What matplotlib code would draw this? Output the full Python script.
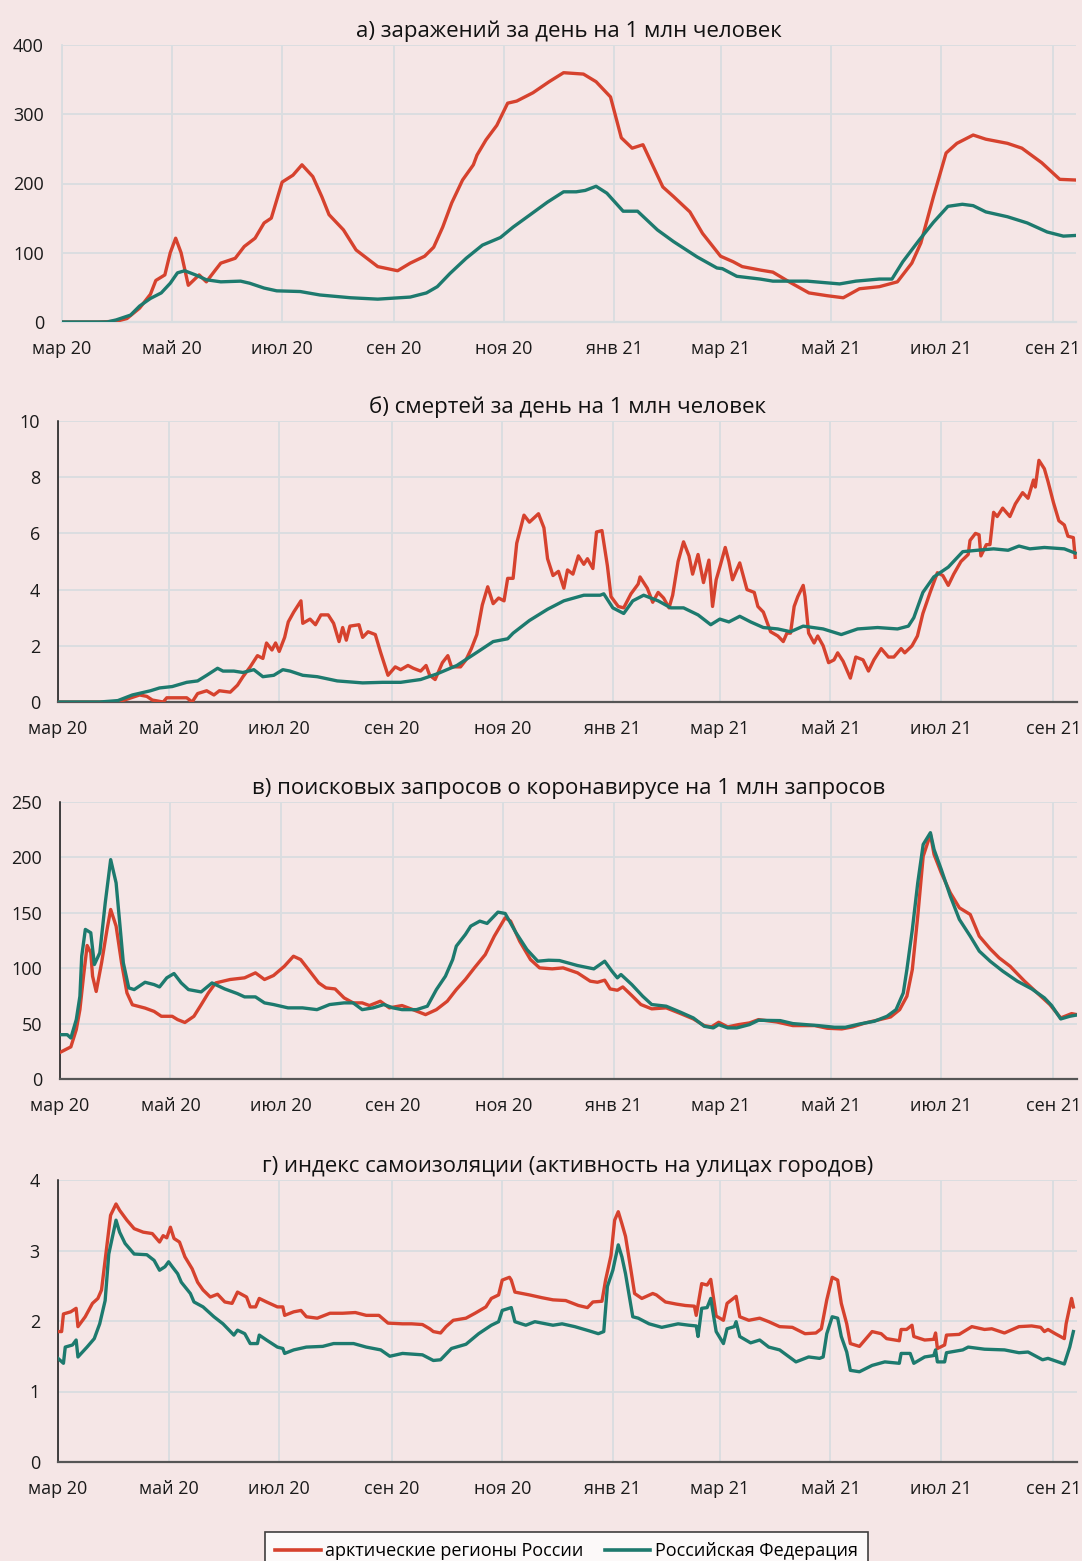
import pandas as pd
import matplotlib
matplotlib.use('Agg')
import matplotlib.pyplot as plt

plt.rcParams['font.family'] = ['Open Sans', 'DejaVu Sans']

# day 0 = 2020-03-01
START = pd.Timestamp('2020-03-01')
tick_dates = ['2020-03-01', '2020-05-01', '2020-07-01', '2020-09-01',
              '2020-11-01', '2021-01-01', '2021-03-01', '2021-05-01',
              '2021-07-01', '2021-09-01']
tick_labels = ['мар 20', 'май 20', 'июл 20', 'сен 20', 'ноя 20', 'янв 21',
               'мар 21', 'май 21', 'июл 21', 'сен 21']
last_day = 562

titles = ['а) заражений за день на 1 млн человек',
          'б) смертей за день на 1 млн человек',
          'в) поисковых запросов о коронавирусе на 1 млн запросов',
          'г) индекс самоизоляции (активность на улицах городов)']
series_names = ['арктические регионы России', 'Российская Федерация']

# (day, value) pairs
cases_arctic = [
    (0, 0), (20, 0), (30, 1), (36, 5), (43, 20), (49, 40), (52, 60), (57, 68),
    (60, 100), (63, 121), (66, 100), (70, 53), (76, 68), (80, 58), (85, 75),
    (88, 85), (96, 92), (101, 109), (107, 121), (112, 143), (116, 150),
    (122, 202), (128, 212), (133, 227), (139, 210), (144, 181), (148, 155),
    (156, 133), (163, 104), (169, 92), (175, 80), (186, 74), (193, 85),
    (201, 95), (206, 108), (211, 137), (216, 172), (222, 205), (228, 227),
    (230, 241), (235, 263), (241, 284), (247, 316), (252, 319), (261, 331),
    (270, 347), (278, 360), (289, 358), (296, 347), (304, 325), (310, 266),
    (316, 251), (322, 256), (333, 195), (339, 181), (348, 159), (355, 128),
    (365, 95), (372, 87), (377, 80), (387, 75), (394, 72), (403, 58),
    (414, 42), (424, 38), (433, 35), (442, 48), (453, 51), (463, 58),
    (471, 85), (476, 114), (483, 181), (490, 244), (496, 258), (505, 270),
    (512, 264), (524, 258), (532, 251), (543, 230), (553, 206), (562, 205)]
cases_rf = [
    (0, 0), (25, 0), (30, 3), (38, 10), (43, 23), (49, 34), (55, 42), (60, 56),
    (64, 71), (68, 74), (74, 68), (80, 61), (88, 58), (99, 59), (104, 56),
    (112, 49), (119, 45), (132, 44), (143, 39), (160, 35), (175, 33),
    (187, 35), (193, 36), (202, 42), (208, 51), (215, 70), (224, 92),
    (233, 111), (243, 122), (250, 137), (259, 154), (269, 173), (278, 188),
    (285, 188), (290, 190), (296, 196), (302, 186), (311, 160), (319, 160),
    (330, 133), (339, 116), (352, 94), (363, 78), (366, 77), (374, 66),
    (387, 62), (394, 59), (413, 59), (431, 55), (440, 59), (453, 62),
    (460, 62), (466, 87), (475, 118), (483, 144), (491, 167), (499, 170),
    (505, 168), (512, 159), (524, 152), (535, 143), (546, 130), (555, 124),
    (562, 125)]

deaths_arctic = [
    (0, 0), (33, 0), (38, 0.1), (45, 0.25), (49, 0.2), (52, 0.07), (58, 0),
    (60, 0.15), (71, 0.15), (74, 0), (77, 0.3), (82, 0.4), (86, 0.25),
    (89, 0.4), (95, 0.35), (99, 0.6), (102, 0.9), (106, 1.25), (110, 1.65),
    (113, 1.55), (115, 2.1), (118, 1.85), (120, 2.1), (122, 1.8), (125, 2.3),
    (127, 2.85), (130, 3.2), (134, 3.6), (135, 2.8), (139, 2.95), (142, 2.75),
    (145, 3.1), (149, 3.1), (152, 2.8), (155, 2.15), (157, 2.65), (159, 2.2),
    (161, 2.7), (166, 2.75), (168, 2.3), (171, 2.5), (175, 2.4), (178, 1.75),
    (182, 0.95), (186, 1.25), (189, 1.15), (193, 1.3), (196, 1.2), (200, 1.1),
    (203, 1.3), (205, 0.95), (208, 0.8), (212, 1.4), (215, 1.65), (217, 1.25),
    (222, 1.25), (225, 1.5), (228, 1.9), (231, 2.4), (234, 3.45), (237, 4.1),
    (240, 3.5), (243, 3.7), (246, 3.6), (248, 4.4), (251, 4.4), (253, 5.65),
    (257, 6.65), (260, 6.4), (265, 6.7), (268, 6.2), (270, 5.1), (273, 4.5),
    (276, 4.65), (279, 4.05), (281, 4.7), (284, 4.55), (287, 5.2), (290, 4.9),
    (292, 5.1), (295, 4.75), (297, 6.05), (300, 6.1), (303, 4.85),
    (305, 3.75), (309, 3.4), (312, 3.35), (316, 3.85), (320, 4.2),
    (321, 4.45), (325, 4.05), (328, 3.55), (331, 3.9), (334, 3.7),
    (337, 3.35), (339, 3.8), (342, 5.0), (345, 5.7), (348, 5.2), (350, 4.55),
    (353, 5.25), (356, 4.25), (359, 5.05), (361, 3.4), (363, 4.35),
    (365, 4.8), (368, 5.5), (370, 5.0), (372, 4.35), (376, 4.95), (380, 4.0),
    (384, 3.9), (386, 3.4), (389, 3.2), (393, 2.5), (397, 2.35), (400, 2.15),
    (402, 2.45), (404, 2.45), (406, 3.4), (408, 3.75), (411, 4.15),
    (412, 3.75), (414, 2.45), (417, 2.1), (419, 2.35), (422, 2.0),
    (425, 1.4), (428, 1.5), (430, 1.75), (433, 1.45), (435, 1.15),
    (437, 0.85), (440, 1.6), (444, 1.5), (447, 1.1), (450, 1.5), (454, 1.9),
    (458, 1.6), (461, 1.6), (465, 1.9), (467, 1.75), (471, 2.0), (474, 2.35),
    (477, 3.15), (481, 3.9), (485, 4.6), (488, 4.5), (491, 4.15),
    (494, 4.55), (498, 5.0), (502, 5.25), (503, 5.75), (506, 6.0),
    (508, 5.95), (509, 5.2), (512, 5.6), (514, 5.6), (516, 6.75),
    (518, 6.6), (521, 6.9), (525, 6.6), (528, 7.05), (532, 7.45),
    (535, 7.25), (538, 7.9), (539, 7.65), (541, 8.6), (544, 8.3),
    (546, 7.85), (549, 7.1), (552, 6.45), (555, 6.3), (557, 5.9),
    (560, 5.85), (561, 5.15)]
deaths_rf = [
    (0, 0), (23, 0), (33, 0.05), (41, 0.25), (51, 0.4), (56, 0.5), (63, 0.55),
    (71, 0.7), (77, 0.75), (82, 0.95), (88, 1.2), (91, 1.1), (97, 1.1),
    (102, 1.05), (108, 1.15), (113, 0.9), (119, 0.95), (124, 1.15),
    (128, 1.1), (135, 0.95), (143, 0.9), (154, 0.75), (168, 0.68), (179, 0.7),
    (189, 0.7), (200, 0.8), (209, 1.0), (220, 1.3), (233, 1.85), (240, 2.15),
    (248, 2.25), (251, 2.45), (260, 2.9), (270, 3.3), (279, 3.6), (290, 3.8),
    (299, 3.8), (301, 3.85), (306, 3.35), (312, 3.15), (317, 3.6),
    (323, 3.8), (331, 3.6), (338, 3.35), (345, 3.35), (353, 3.1),
    (360, 2.75), (365, 2.95), (370, 2.85), (376, 3.05), (382, 2.85),
    (389, 2.65), (397, 2.6), (404, 2.5), (411, 2.7), (422, 2.6), (432, 2.4),
    (441, 2.6), (452, 2.65), (463, 2.6), (469, 2.7), (472, 3.0), (477, 3.9),
    (483, 4.45), (491, 4.8), (499, 5.35), (507, 5.4), (516, 5.45),
    (524, 5.4), (530, 5.55), (536, 5.45), (544, 5.5), (555, 5.45),
    (561, 5.3)]

search_arctic = [
    (0, 24), (3, 26.5), (6, 29), (9, 44.6), (11, 62.6), (13, 92.8),
    (15, 120.5), (17, 114), (18, 92.8), (20, 79), (23, 105), (26, 135),
    (28, 153), (31, 138), (34, 105), (37, 77.7), (40, 67), (47, 64), (52, 61),
    (56, 56.6), (62, 56.6), (65, 53.6), (69, 51), (74, 56.6), (78, 67),
    (82, 77.7), (86, 86.7), (94, 89.8), (102, 91.3), (108, 95.8),
    (113, 89.8), (118, 93.4), (124, 101.8), (129, 110.8), (133, 107.8),
    (138, 97.3), (143, 86.7), (147, 82.2), (152, 81.3), (157, 73.2),
    (162, 68.7), (167, 68.7), (171, 66.3), (177, 70.2), (182, 64.2),
    (189, 66.3), (195, 62.6), (202, 58.1), (208, 62.6), (214, 70.2),
    (219, 80.7), (224, 89.8), (229, 100.3), (235, 112.3), (240, 128.9),
    (246, 145.5), (249, 142.5), (254, 124.4), (260, 107.8), (265, 100.3),
    (272, 99.4), (278, 100.3), (286, 95.8), (293, 88.3), (297, 87.3),
    (301, 89.2), (304, 81.3), (308, 80.1), (311, 83.1), (316, 75.3),
    (321, 67.2), (327, 63.3), (335, 64.2), (343, 59), (350, 54.2),
    (356, 48.2), (360, 47), (364, 51.2), (369, 47), (375, 49.1), (381, 50.6),
    (386, 53.6), (396, 51.5), (405, 48.2), (417, 48.2), (424, 45.8),
    (432, 45.2), (438, 47), (445, 50.6), (453, 53.6), (459, 56), (464, 62.6),
    (468, 74.7), (471, 98.8), (474, 147), (477, 201), (481, 220.8),
    (483, 202.7), (487, 186), (492, 168), (497, 154.5), (503, 148.5),
    (508, 128.9), (514, 117.5), (519, 109.3), (525, 101.8), (533, 88.3),
    (540, 77.7), (547, 67.2), (553, 55.1), (559, 59), (562, 58.1)]
search_rf = [
    (0, 40), (4, 40), (6, 37), (9, 53.6), (11, 74.7), (12, 110.8), (14, 135),
    (17, 132), (19, 103.3), (22, 113.9), (25, 159), (28, 198), (31, 177),
    (35, 104.8), (38, 82.2), (41, 80.7), (47, 87.3), (52, 85.2), (55, 83.1),
    (59, 91.3), (63, 95.2), (67, 86.7), (71, 80.7), (78, 78.6), (84, 86.7),
    (91, 81.3), (98, 77.1), (102, 74.1), (108, 74.1), (113, 68.7),
    (118, 67.2), (126, 64.2), (134, 64.2), (142, 62.6), (149, 67.2),
    (157, 68.7), (162, 68.7), (167, 62.6), (173, 64.2), (179, 67.2),
    (184, 64.2), (189, 62.6), (197, 62.6), (203, 65.7), (208, 80.7),
    (213, 92.8), (217, 107.8), (219, 119.9), (224, 130.4), (227, 138),
    (232, 142.5), (236, 140.4), (242, 150.6), (246, 149.4), (252, 132),
    (258, 116.9), (264, 106.3), (270, 107.2), (276, 106.9), (286, 102.4),
    (295, 99.4), (301, 106.3), (305, 97.3), (308, 91.3), (310, 94.3),
    (316, 85.2), (322, 74.7), (327, 67.2), (335, 65.7), (343, 60.2),
    (350, 55.1), (356, 47.6), (361, 46.1), (364, 49.1), (369, 46.1),
    (374, 46.1), (381, 49.1), (386, 53), (398, 52.7), (405, 50), (419, 48.2),
    (428, 46.7), (434, 46.7), (442, 49.7), (450, 52.1), (457, 56.6),
    (462, 62.6), (466, 77.7), (468, 98.8), (471, 134.9), (474, 177.1),
    (477, 211.7), (481, 222.3), (483, 207.2), (487, 189.1), (492, 165),
    (497, 144), (503, 128.9), (508, 115.4), (514, 106.3), (521, 97.3),
    (529, 88.3), (537, 81.3), (544, 73.2), (548, 66.3), (553, 54.2),
    (558, 56.6), (562, 57.8)]

isolation_arctic = [
    (0, 1.85), (2, 1.85), (3, 2.1), (7, 2.13), (10, 2.18), (11, 1.92),
    (15, 2.06), (19, 2.25), (22, 2.32), (24, 2.44), (26, 2.86), (29, 3.5),
    (32, 3.66), (34, 3.57), (38, 3.43), (42, 3.31), (47, 3.26), (52, 3.24),
    (56, 3.12), (58, 3.21), (60, 3.18), (62, 3.33), (64, 3.17), (67, 3.12),
    (70, 2.91), (74, 2.74), (77, 2.55), (80, 2.44), (84, 2.34), (88, 2.38),
    (92, 2.27), (96, 2.25), (99, 2.41), (104, 2.34), (106, 2.2), (109, 2.2),
    (111, 2.32), (115, 2.27), (121, 2.2), (124, 2.2), (125, 2.08),
    (130, 2.13), (134, 2.15), (137, 2.06), (143, 2.04), (150, 2.11),
    (157, 2.11), (164, 2.12), (170, 2.08), (177, 2.08), (182, 1.97),
    (190, 1.96), (195, 1.96), (201, 1.95), (205, 1.89), (207, 1.85),
    (211, 1.83), (214, 1.92), (218, 2.01), (225, 2.04), (230, 2.11),
    (236, 2.2), (239, 2.32), (243, 2.37), (245, 2.58), (249, 2.62),
    (250, 2.58), (252, 2.41), (260, 2.37), (267, 2.33), (273, 2.3),
    (280, 2.29), (287, 2.22), (292, 2.19), (295, 2.27), (300, 2.28),
    (302, 2.58), (305, 2.93), (307, 3.43), (309, 3.55), (311, 3.38),
    (313, 3.2), (316, 2.72), (318, 2.39), (322, 2.32), (328, 2.39),
    (330, 2.37), (335, 2.27), (341, 2.24), (346, 2.22), (351, 2.21),
    (352, 2.08), (355, 2.53), (358, 2.51), (360, 2.59), (363, 2.07),
    (367, 2.01), (369, 2.25), (374, 2.35), (376, 2.06), (381, 2.01),
    (387, 2.04), (392, 1.99), (398, 1.92), (405, 1.91), (412, 1.82),
    (418, 1.83), (421, 1.89), (424, 2.3), (427, 2.62), (430, 2.58),
    (432, 2.25), (435, 1.96), (437, 1.68), (442, 1.64), (445, 1.73),
    (449, 1.85), (454, 1.82), (457, 1.75), (464, 1.72), (465, 1.88),
    (468, 1.88), (471, 1.94), (472, 1.78), (478, 1.73), (483, 1.74),
    (484, 1.83), (485, 1.61), (489, 1.66), (490, 1.8), (497, 1.81),
    (504, 1.92), (511, 1.88), (515, 1.89), (522, 1.83), (530, 1.92),
    (537, 1.93), (542, 1.91), (544, 1.85), (546, 1.88), (550, 1.82),
    (555, 1.75), (556, 1.96), (559, 2.32), (560, 2.2)]
isolation_rf = [
    (0, 1.47), (3, 1.4), (4, 1.63), (8, 1.66), (10, 1.73), (11, 1.49),
    (16, 1.63), (20, 1.75), (23, 1.96), (26, 2.29), (28, 2.95), (32, 3.43),
    (34, 3.26), (37, 3.1), (42, 2.95), (49, 2.94), (53, 2.86), (56, 2.72),
    (59, 2.77), (61, 2.84), (63, 2.77), (66, 2.67), (68, 2.55), (73, 2.39),
    (75, 2.27), (80, 2.2), (86, 2.06), (91, 1.96), (97, 1.8), (99, 1.87),
    (103, 1.82), (106, 1.68), (110, 1.68), (111, 1.8), (115, 1.73),
    (121, 1.63), (124, 1.61), (125, 1.54), (130, 1.59), (137, 1.63),
    (146, 1.64), (152, 1.68), (157, 1.68), (163, 1.68), (170, 1.63),
    (178, 1.59), (183, 1.5), (190, 1.54), (201, 1.52), (207, 1.44),
    (211, 1.45), (217, 1.61), (225, 1.67), (232, 1.82), (239, 1.94),
    (243, 1.99), (245, 2.15), (250, 2.19), (252, 1.99), (258, 1.94),
    (263, 1.99), (273, 1.94), (278, 1.96), (285, 1.92), (293, 1.86),
    (298, 1.82), (301, 1.85), (303, 2.49), (306, 2.72), (309, 3.08),
    (311, 2.91), (313, 2.67), (317, 2.06), (320, 2.04), (326, 1.96),
    (333, 1.91), (342, 1.96), (348, 1.94), (352, 1.93), (353, 1.78),
    (355, 2.18), (358, 2.19), (360, 2.32), (363, 1.85), (367, 1.68),
    (369, 1.89), (373, 1.92), (374, 1.99), (376, 1.78), (382, 1.69),
    (387, 1.73), (392, 1.63), (398, 1.59), (407, 1.42), (414, 1.49),
    (420, 1.47), (422, 1.49), (424, 1.82), (427, 2.06), (430, 2.04),
    (432, 1.78), (435, 1.56), (437, 1.3), (442, 1.28), (449, 1.37),
    (456, 1.42), (464, 1.4), (465, 1.54), (470, 1.54), (472, 1.4),
    (478, 1.49), (483, 1.51), (484, 1.59), (485, 1.42), (489, 1.42),
    (490, 1.55), (499, 1.59), (502, 1.63), (511, 1.6), (522, 1.59),
    (530, 1.55), (535, 1.56), (543, 1.45), (546, 1.47), (555, 1.39),
    (558, 1.63), (560, 1.85)]

y_limits = [(0, 400, 100), (0, 10, 2), (0, 250, 50), (0, 4, 1)]

RED = '#d6422e'
TEAL = '#1d7a6e'
BG = '#f5e6e6'
GRID = '#d9dde0'

# axes boxes in pixels (left, top, right, bottom) on a 1082x1561 canvas
W, H = 1082, 1561
boxes = [(62, 45, 1076, 322), (58, 421, 1077, 702),
         (60, 802, 1077, 1079), (58, 1180, 1077, 1462)]


def plot_panel(ax, arctic, rf, title, ylim, dark_axes):
    ticks = [(pd.Timestamp(d) - START).days for d in tick_dates]
    for data, color in ((arctic, RED), (rf, TEAL)):
        days = [p[0] for p in data]
        vals = [p[1] for p in data]
        ax.plot(days, vals, color=color, lw=2.4, solid_joinstyle='round',
                zorder=3)
    lo, hi, step = ylim
    ax.set_ylim(lo, hi)
    ax.set_yticks([lo + step * i for i in range(int((hi - lo) / step) + 1)])
    ax.set_xlim(0, last_day)
    ax.set_xticks(ticks)
    ax.set_xticklabels(tick_labels)
    ax.set_facecolor(BG)
    ax.grid(True, color=GRID, lw=1.3, zorder=0)
    ax.set_axisbelow(True)
    ax.tick_params(length=0, labelsize=13, colors='#1a1a1a')
    ax.tick_params(axis='y', pad=13)
    ax.tick_params(axis='x', pad=13)
    for s in ('top', 'right'):
        ax.spines[s].set_visible(False)
    if dark_axes:
        ax.spines['left'].set_color('#111111')
        ax.spines['left'].set_linewidth(1.1)
        ax.spines['bottom'].set_color('#555555')
        ax.spines['bottom'].set_linewidth(1.6)
    else:
        ax.spines['left'].set_color(GRID)
        ax.spines['left'].set_linewidth(1.3)
        ax.spines['bottom'].set_color(GRID)
        ax.spines['bottom'].set_linewidth(1.6)
    ax.set_title(title, fontsize=16, pad=6, color='#111111')


fig = plt.figure(figsize=(W / 100, H / 100), dpi=100)
fig.patch.set_facecolor(BG)

panels = [(cases_arctic, cases_rf), (deaths_arctic, deaths_rf),
          (search_arctic, search_rf), (isolation_arctic, isolation_rf)]
for i, (box, (arc, rf)) in enumerate(zip(boxes, panels)):
    l, t, r, b = box
    ax = fig.add_axes([l / W, 1 - b / H, (r - l) / W, (b - t) / H])
    plot_panel(ax, arc, rf, titles[i], y_limits[i], dark_axes=(i > 0))

handles = [plt.Line2D([], [], color=RED, lw=2.6),
           plt.Line2D([], [], color=TEAL, lw=2.6)]
leg = fig.legend(handles, series_names, loc='upper center',
                 bbox_to_anchor=(566.5 / W, 1 - 1532 / H), ncol=2,
                 fontsize=13, frameon=True, fancybox=False,
                 handlelength=2.5, handletextpad=0.25, columnspacing=1.2,
                 borderpad=0.55, borderaxespad=0)
leg.get_frame().set_edgecolor('#111111')
leg.get_frame().set_linewidth(1.2)
leg.get_frame().set_facecolor('white')

fig.savefig('out.png', dpi=100, facecolor=BG)
